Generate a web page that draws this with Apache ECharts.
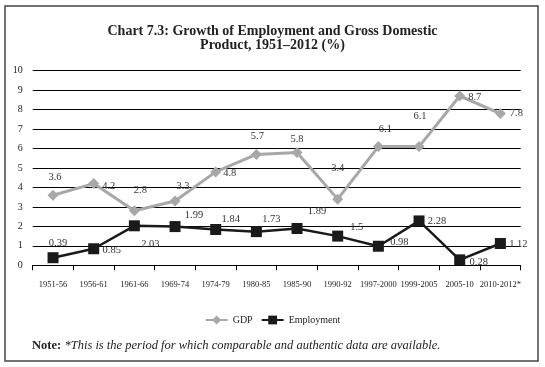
<!DOCTYPE html>
<html><head><meta charset="utf-8">
<script src="https://cdn.jsdelivr.net/npm/echarts@6/dist/echarts.min.js"></script>
<style>html,body{margin:0;padding:0;background:#fff}#c{width:545px;height:367px}</style>
</head><body><div id="c"></div>
<script>
const categories = ['1951-56','1956-61','1961-66','1969-74','1974-79','1980-85','1985-90','1990-92','1997-2000','1999-2005','2005-10','2010-2012*'];
const gdp = [3.6, 4.2, 2.8, 3.3, 4.8, 5.7, 5.8, 3.4, 6.1, 6.1, 8.7, 7.8];
const employment = [0.39, 0.85, 2.03, 1.99, 1.84, 1.73, 1.89, 1.5, 0.98, 2.28, 0.28, 1.12];
const yTicks = [0,1,2,3,4,5,6,7,8,9,10];

// label placement (layout only)
const gdpLabelOffset = [[2,-18],[15,3],[6,-21],[8,-15],[14,1],[1,-18],[0,-13],[0,-31],[7,-17],[1,-30],[15,1],[16,0]];
const empLabelOffset = [[5,-14],[18,1],[16,18],[19,-11],[15,-10],[15,-12],[20,-17],[19,-9],[21,-4],[18,0],[19,2],[18,1]];

const serif = '"Liberation Serif", "DejaVu Serif", serif';
function withLabels(vals, offs){
  return vals.map((v,i)=>({value:v, label:{show:true, position:'inside', offset:offs[i], formatter: String(v), color:'#333', fontSize:10.5, fontFamily:serif, align:'center', verticalAlign:'middle'}}));
}

const chart = echarts.init(document.getElementById('c'), null, {renderer:'canvas'});
chart.setOption({
  animation:false,
  backgroundColor:'#fff',
  title:{
    text:'Chart 7.3: Growth of Employment and Gross Domestic\nProduct, 1951\u20132012 (%)',
    left:'center', top:19,
    textStyle:{fontFamily:serif, fontWeight:'bold', fontSize:14, color:'#222', lineHeight:14}
  },
  grid:{left:32.7, right:24.3, top:70.7, bottom:101.7},
  legend:{
    bottom:37, left:'center', itemWidth:22, itemHeight:11, itemGap:8,
    textStyle:{fontFamily:serif, fontSize:10, color:'#222'},
    data:['GDP','Employment']
  },
  xAxis:{
    type:'category', data:categories, boundaryGap:true,
    axisLine:{lineStyle:{color:'#000', width:1}},
    axisTick:{show:true, length:5, lineStyle:{color:'#000'}},
    axisLabel:{fontFamily:serif, fontSize:8.5, color:'#222', margin:15, interval:0}
  },
  yAxis:{
    type:'value', min:yTicks[0], max:yTicks[yTicks.length-1], interval:1,
    axisLine:{show:false},
    axisTick:{show:false},
    axisLabel:{fontFamily:serif, fontSize:10, color:'#222', margin:10},
    splitLine:{lineStyle:{color:'#000', width:1}}
  },
  series:[
    {name:'GDP', type:'line', data:withLabels(gdp,gdpLabelOffset), symbol:'diamond', symbolSize:11,
     itemStyle:{color:'#a8a8a8'}, lineStyle:{color:'#a8a8a8', width:3}, z:3},
    {name:'Employment', type:'line', data:withLabels(employment,empLabelOffset), symbol:'rect', symbolSize:11,
     itemStyle:{color:'#1a1a1a'}, lineStyle:{color:'#1a1a1a', width:2.5}, z:4}
  ],
  graphic:[
    {type:'rect', shape:{x:5, y:6, width:533, height:355}, style:{fill:null, stroke:'#444', lineWidth:1.5}, silent:true, z:-1},
    {type:'text', left:32, top:339, style:{
      text:'{b|Note:} {i|*This is the period for which comparable and authentic data are available.}',
      rich:{
        b:{fontFamily:serif, fontWeight:'bold', fontSize:12.5, fill:'#222'},
        i:{fontFamily:serif, fontStyle:'italic', fontSize:12.5, fill:'#222'}
      }
    }}
  ]
});
</script></body></html>
